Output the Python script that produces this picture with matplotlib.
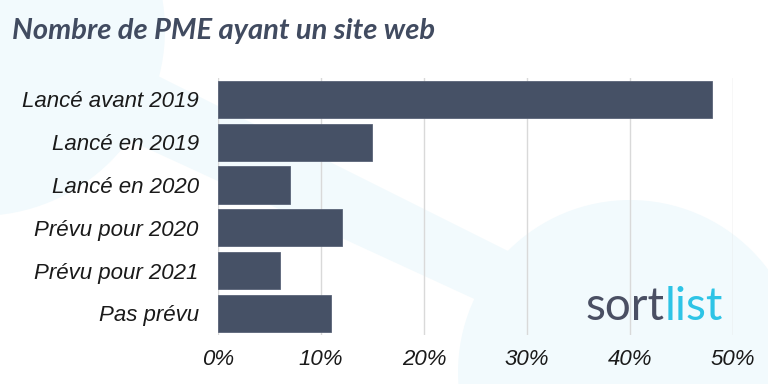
import matplotlib.pyplot as plt
from matplotlib.patches import Circle, Polygon

categories = ["Lancé avant 2019", "Lancé en 2019", "Lancé en 2020",
              "Prévu pour 2020", "Prévu pour 2021", "Pas prévu"]
values = [48, 15, 7, 12, 6, 11]
ticks = [0, 10, 20, 30, 40, 50]
tick_labels = ["0%", "10%", "20%", "30%", "40%", "50%"]

fig = plt.figure(figsize=(7.68, 3.84), dpi=100)
fig.patch.set_facecolor("white")

# faint background shapes, drawn in pixel units
bg_ax = fig.add_axes([0, 0, 1, 1], zorder=-1)
bg_ax.set_xlim(0, 768)
bg_ax.set_ylim(384, 0)
bg_ax.axis("off")
bg = "#f2fafd"
bg_ax.add_patch(Circle((-21, 30), 186, facecolor=bg, edgecolor="none"))
bg_ax.add_patch(Circle((630, 372), 172, facecolor=bg, edgecolor="none"))
bg_ax.add_patch(Polygon([(60, 27), (560, 277), (520, 320), (20, 90)],
                        facecolor=bg, edgecolor="none"))

ax = fig.add_axes([0.284, 0.128, 0.67, 0.669])
ax.patch.set_alpha(0)

y = list(range(len(categories)))
ax.barh(y, values, height=0.87, color="#465166", edgecolor="#5a6478",
        linewidth=0.6, zorder=3)
ax.set_ylim(len(categories) - 0.5, -0.5)
ax.set_xlim(0, 50)
ax.set_xticks(ticks)
ax.set_xticklabels(tick_labels)
ax.set_yticks(y)
ax.set_yticklabels(categories)
ax.grid(axis="x", color="#d9d9d9", linewidth=1, zorder=0)
for s in ax.spines.values():
    s.set_visible(False)
ax.tick_params(axis="y", length=0, pad=14)
ax.tick_params(axis="x", length=0, pad=10)
for lab in ax.get_yticklabels() + ax.get_xticklabels():
    lab.set_fontfamily("Liberation Sans")
    lab.set_fontstyle("italic")
    lab.set_fontsize(16)
    lab.set_color("#1a1a1a")

fig.text(0.016, 0.898, "Nombre de PME ayant un site web", fontfamily="Lato",
         fontweight="bold", fontstyle="italic", fontsize=21, color="#414b60",
         va="baseline")

t1 = fig.text(0.762, 0.167, "sort", fontfamily="Lato", fontsize=33,
              color="#4a4f63", va="baseline")
fig.canvas.draw()
bb = t1.get_window_extent().transformed(fig.transFigure.inverted())
fig.text(bb.x1, 0.167, "list", fontfamily="Lato", fontsize=33,
         color="#2ec4e6", va="baseline")

fig.savefig("out.png", dpi=100)
